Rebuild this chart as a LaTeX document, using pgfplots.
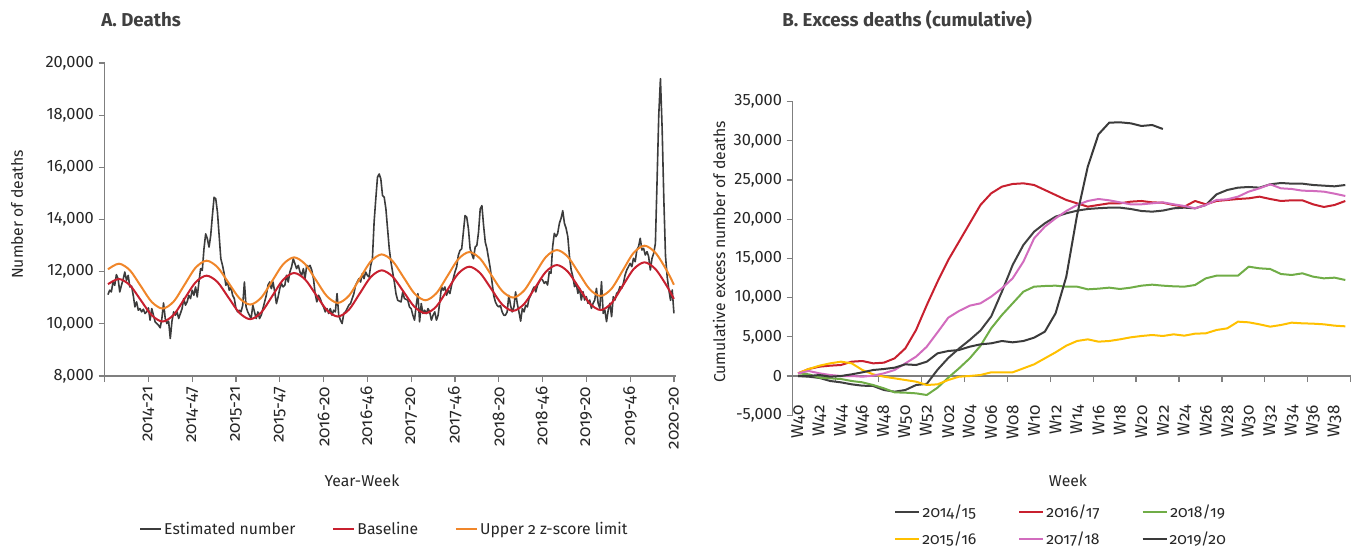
\documentclass[border=0pt]{standalone}
\usepackage{fontspec}
\setmainfont{Fira Sans}[Numbers=OldStyle]
\newfontfamily\linfont{Fira Sans}[Numbers=Lining]
\usepackage{pgfplots}
\pgfplotsset{compat=1.18}
\definecolor{cEst}{HTML}{3C3C3C}
\definecolor{cBase}{HTML}{C8202F}
\definecolor{cUpper}{HTML}{F0862A}
\definecolor{cA}{HTML}{404040}
\definecolor{cB}{HTML}{FFC000}
\definecolor{cC}{HTML}{C8202F}
\definecolor{cD}{HTML}{D26CBE}
\definecolor{cE}{HTML}{70AD47}
\definecolor{cF}{HTML}{3A3A3A}
\definecolor{axgray}{HTML}{7F7F7F}
\definecolor{txt}{HTML}{262626}
\definecolor{ttl}{HTML}{404040}
\begin{document}
\begin{tikzpicture}[font=\fontsize{11.8}{14}\selectfont, text=txt]
\path[use as bounding box] (0,0) rectangle (1020pt,410.25pt);
\pgfplotsset{
  common/.style={
    scale only axis, anchor=south west,
    axis line style={-, axgray, line width=0.9pt},
    tick style={axgray, line width=0.9pt},
    major tick length=4.5pt, tick align=outside,
    scaled y ticks=false,
    tick label style={font=\fontsize{12.8}{15}\selectfont},
    yticklabel style={font=\linfont\fontsize{12.3}{15}\selectfont},
    /pgf/number format/.cd, fixed, 1000 sep={,}, assume math mode=true,
  },
}
% ---------------- Panel A ----------------
\begin{axis}[common,
  at={(78.45pt,128.25pt)}, width=428.25pt, height=234.75pt,
  xmin=-6, xmax=333, ymin=8000, ymax=20000,
  axis x line*=bottom, axis y line*=left,
  xtick={-6,20,46,...,332},
  xticklabels={,2014-21,2014-47,2015-21,2015-47,2016-20,2016-46,2017-20,2017-46,2018-20,2018-46,2019-20,2019-46,2020-20},
  xticklabel style={rotate=90, anchor=east},
  ytick={8000,10000,...,20000},
  legend columns=3,
  legend style={draw=none, fill=none, at={(0.49,-0.489)}, anchor=center,
    nodes={inner xsep=1.5pt},
    /tikz/every even column/.append style={column sep=26pt},
    font=\fontsize{11.8}{14}\selectfont},
  legend image code/.code={\draw[#1] (0pt,0pt) -- (16pt,0pt);},
]
\addplot[cEst, line width=1.2pt, line join=round] coordinates {
(-4,11121)(-3,11287)(-2,11223)(-1,11605)(0,11478)(1,11885)(2,11732)(3,11223)(4,11478)(5,11700)
(6,11987)(7,11669)(8,11860)(9,11414)(10,11450)(11,11095)(12,10650)(13,10841)(14,10522)(15,10586)
(16,10458)(17,10560)(18,10395)(19,10458)(20,10611)(21,10140)(22,10586)(23,10331)(24,10076)(25,10012)
(26,9949)(27,9847)(28,10204)(29,10800)(30,10204)(31,10012)(32,10100)(33,9439)(34,10102)(35,10458)
(36,10331)(37,10458)(38,10204)(39,10395)(40,10586)(41,10968)(42,10713)(43,10840)(44,11095)(45,10968)
(46,11287)(47,11095)(48,11414)(49,11032)(50,11605)(51,12115)(52,12050)(53,12879)(54,13452)(55,13261)
(56,12943)(57,13389)(58,14153)(59,14854)(60,14790)(61,14281)(62,13389)(63,12497)(64,12242)(65,11924)
(66,11478)(67,11605)(68,11287)(69,11414)(70,11095)(71,10968)(72,10586)(73,10458)(74,10522)(75,10458)
(76,10713)(77,11605)(78,10650)(79,10458)(80,10331)(81,10204)(82,10713)(83,10458)(84,10204)(85,10458)
(86,10204)(87,10331)(88,10586)(89,10840)(90,11095)(91,11478)(92,11605)(93,11350)(94,11605)(95,11223)
(96,10777)(97,11032)(98,11350)(99,11541)(100,11414)(101,11478)(102,11860)(103,11605)(104,11987)(105,12178)
(106,12497)(107,12306)(108,12115)(109,12242)(110,11987)(111,11860)(112,12115)(113,11732)(114,12242)(115,12178)
(116,12242)(117,12051)(118,11732)(119,11159)(120,10841)(121,11095)(122,10968)(123,10777)(124,10650)(125,10458)
(126,10586)(127,10395)(128,10586)(129,10331)(130,10522)(131,10458)(132,11159)(133,10331)(134,10140)(135,10012)
(136,10395)(137,10458)(138,10586)(139,10713)(140,10777)(141,10968)(142,11159)(143,11478)(144,11605)(145,11732)
(146,11605)(147,11924)(148,11732)(149,11987)(150,11860)(151,11796)(152,12242)(153,12497)(154,13898)(155,14790)
(156,15618)(157,15745)(158,15554)(159,14917)(160,14854)(161,14408)(162,13643)(163,12879)(164,12369)(165,11987)
(166,11605)(167,11150)(168,10904)(169,10870)(170,10841)(171,11223)(172,10968)(173,10940)(174,10904)(175,10650)
(176,10586)(177,10331)(178,10140)(179,10713)(180,11159)(181,10076)(182,10777)(183,10395)(184,10522)(185,10395)
(186,10586)(187,10458)(188,10140)(189,10331)(190,10458)(191,10140)(192,10331)(193,10840)(194,11414)(195,11287)
(196,11414)(197,11095)(198,11287)(199,11159)(200,11478)(201,11732)(202,11987)(203,12178)(204,12624)(205,12815)
(206,12879)(207,13516)(208,14153)(209,14090)(210,13643)(211,12879)(212,12688)(213,12497)(214,12943)(215,13006)
(216,13516)(217,14408)(218,14535)(219,13771)(220,13134)(221,12879)(222,12497)(223,12115)(224,11605)(225,11095)
(226,10840)(227,10713)(228,10650)(229,10700)(230,10458)(231,10331)(232,10331)(233,10458)(234,11095)(235,10713)
(236,10458)(237,10650)(238,11223)(239,10777)(240,10458)(241,10102)(242,10586)(243,10458)(244,10713)(245,10650)
(246,10968)(247,11095)(248,11287)(249,11414)(250,11223)(251,11478)(252,11605)(253,11732)(254,11680)(255,11550)
(256,11617)(257,11489)(258,12000)(259,11936)(260,12959)(261,13470)(262,13342)(263,13470)(264,13853)(265,14045)
(266,14338)(267,13853)(268,13661)(269,13342)(270,12575)(271,12064)(272,11808)(273,11425)(274,11552)(275,11169)
(276,11361)(277,10913)(278,11233)(279,10913)(280,11041)(281,10786)(282,10913)(283,10594)(284,10786)(285,10913)
(286,11361)(287,10786)(288,10594)(289,11617)(290,10402)(291,10530)(292,10083)(293,10530)(294,10786)(295,10275)
(296,11041)(297,10913)(298,11169)(299,11233)(300,11425)(301,11361)(302,11552)(303,11872)(304,12064)(305,12192)
(306,12320)(307,12192)(308,12511)(309,12383)(310,12831)(311,12959)(312,13278)(313,12831)(314,12895)(315,12639)
(316,12767)(317,12575)(318,12064)(319,12511)(320,12703)(321,13086)(322,15500)(323,18000)(324,19400)(325,17500)
(326,14800)(327,12600)(328,11800)(329,11300)(330,10900)(331,11300)(332,10400)
};
\addlegendentry{Estimated number}
\addplot[cBase, line width=1.5pt, smooth] coordinates {
(-4,11520)(2.5,11720)(9,11482)(15.5,10905)(22,10328)(28.5,10089)(35,10346)(41.5,10968)(48,11590)
(54.5,11847)(61,11603)(67.5,11012)(74,10422)(80.5,10178)(87,10437)(93.5,11063)(100,11690)
(106.5,11949)(113,11705)(119.5,11114)(126,10525)(132.5,10280)(139,10539)(145.5,11165)(152,11792)
(158.5,12051)(165,11810)(171.5,11230)(178,10649)(184.5,10408)(191,10669)(197.5,11300)(204,11930)
(210.5,12191)(217,11943)(223.5,11344)(230,10745)(236.5,10497)(243,10755)(249.5,11376)(256,11997)
(262.5,12255)(269,12002)(275.5,11392)(282,10783)(288.5,10530)(295,10798)(301.5,11444)(308,12091)
(314.5,12359)(321,12102)(327.5,11480)(332,10960)
};
\addlegendentry{Baseline}
\addplot[cUpper, line width=1.5pt, smooth] coordinates {
(-4,12090)(2.5,12306)(9,12054)(15.5,11446)(22,10838)(28.5,10586)(35,10855)(41.5,11503)(48,12151)
(54.5,12420)(61,12174)(67.5,11580)(74,10985)(80.5,10739)(87,11004)(93.5,11644)(100,12283)
(106.5,12548)(113,12292)(119.5,11675)(126,11058)(132.5,10802)(139,11074)(145.5,11732)(152,12390)
(158.5,12662)(165,12404)(171.5,11783)(178,11161)(184.5,10904)(191,11175)(197.5,11828)(204,12481)
(210.5,12752)(217,12496)(223.5,11879)(230,11262)(236.5,11006)(243,11273)(249.5,11918)(256,12563)
(262.5,12830)(269,12572)(275.5,11948)(282,11325)(288.5,11067)(295,11350)(301.5,12032)(308,12714)
(314.5,12996)(321,12726)(327.5,12073)(332,11500)
};
\addlegendentry{Upper 2 z-score limit}
\end{axis}
% ---------------- Panel B ----------------
\begin{axis}[common,
  at={(594.5pt,98.85pt)}, width=418.5pt, height=235.2pt,
  xmin=-0.5, xmax=51.5, ymin=-5000, ymax=35000,
  axis x line*=middle, axis y line*=left,
  hide obscured x ticks=false, hide obscured y ticks=false,
  xtick={-0.5,3.5,...,51.5}, xticklabels={},
  extra x ticks={0,2,...,50},
  extra x tick labels={W40,W42,W44,W46,W48,W50,W52,W02,W04,W06,W08,W10,W12,W14,W16,W18,W20,W22,W24,W26,W28,W30,W32,W34,W36,W38},
  extra x tick style={tick style={draw=none}, xticklabel style={yshift=-14pt, rotate=90, anchor=east}},
  ytick={-5000,0,...,35000},
  legend columns=3,
  legend style={draw=none, fill=none, at={(0.481,-0.352)}, anchor=center,
    nodes={inner xsep=1.5pt}, row sep=5pt,
    /tikz/every even column/.append style={column sep=30pt},
    font=\fontsize{11.8}{14}\selectfont},
  legend image code/.code={\draw[#1] (0pt,0pt) -- (18pt,0pt);},
  every axis plot/.append style={line width=1.5pt, line join=round},
]
\addplot[cA] coordinates {
(0,0)(1,-85)(2,-250)(3,-638)(4,-808)(5,-1063)(6,-1233)(7,-1276)(8,-1786)(9,-2000)
(10,-1786)(11,-1150)(12,-1000)(13,800)(14,2300)(15,3500)(16,4600)(17,5800)(18,7600)(19,10757)
(20,14159)(21,16710)(22,18411)(23,19474)(24,20325)(25,20750)(26,21090)(27,21303)(28,21400)(29,21473)
(30,21473)(31,21303)(32,21047)(33,20962)(34,21100)(35,21388)(36,21473)(37,21388)(38,21813)(39,23173)
(40,23726)(41,24024)(42,24109)(43,24024)(44,24449)(45,24619)(46,24534)(47,24534)(48,24364)(49,24279)
(50,24194)(51,24364)
};
\addlegendentry{2014/15}
\addplot[cC] coordinates {
(0,340)(1,893)(2,1190)(3,1318)(4,1403)(5,1828)(6,1913)(7,1616)(8,1700)(9,2254)
(10,3529)(11,5868)(12,9057)(13,12033)(14,14797)(15,17135)(16,19474)(17,21813)(18,23300)(19,24151)
(20,24491)(21,24576)(22,24364)(23,23726)(24,23088)(25,22450)(26,22026)(27,21600)(28,21813)(29,22026)
(30,22026)(31,22238)(32,22323)(33,22153)(34,22100)(35,21813)(36,21600)(37,22323)(38,21898)(39,22323)
(40,22450)(41,22578)(42,22663)(43,22876)(44,22578)(45,22323)(46,22408)(47,22408)(48,21898)(49,21558)
(50,21813)(51,22323)
};
\addlegendentry{2016/17}
\addplot[cE] coordinates {
(0,340)(1,213)(2,-213)(3,-298)(4,-383)(5,-638)(6,-808)(7,-1148)(8,-1573)(9,-2084)
(10,-2126)(11,-2211)(12,-2424)(13,-1488)(14,-213)(15,978)(16,2254)(17,3850)(18,6080)(19,7781)
(20,9270)(21,10757)(22,11395)(23,11480)(24,11523)(25,11395)(26,11395)(27,11055)(28,11140)(29,11268)
(30,11098)(31,11268)(32,11523)(33,11650)(34,11523)(35,11438)(36,11395)(37,11608)(38,12458)(39,12798)
(40,12798)(41,12798)(42,13946)(43,13734)(44,13649)(45,13011)(46,12884)(47,13096)(48,12671)(49,12458)
(50,12543)(51,12246)
};
\addlegendentry{2018/19}
\addplot[cB] coordinates {
(0,340)(1,893)(2,1318)(3,1616)(4,1828)(5,1616)(6,765)(7,213)(8,-85)(9,-298)
(10,-510)(11,-723)(12,-1148)(13,-1063)(14,-510)(15,-85)(16,0)(17,128)(18,468)(19,468)
(20,468)(21,978)(22,1488)(23,2254)(24,3019)(25,3869)(26,4465)(27,4677)(28,4380)(29,4465)
(30,4677)(31,4932)(32,5102)(33,5230)(34,5102)(35,5315)(36,5145)(37,5400)(38,5443)(39,5868)
(40,6080)(41,6931)(42,6846)(43,6591)(44,6293)(45,6506)(46,6803)(47,6718)(48,6676)(49,6591)
(50,6421)(51,6336)
};
\addlegendentry{2015/16}
\addplot[cD] coordinates {
(0,340)(1,638)(2,340)(3,128)(4,0)(5,0)(6,-85)(7,43)(8,340)(9,765)
(10,1616)(11,2466)(12,3742)(13,5570)(14,7441)(15,8291)(16,8972)(17,9270)(18,10120)(19,11183)
(20,12458)(21,14584)(22,17561)(23,19049)(24,20112)(25,21047)(26,21813)(27,22323)(28,22578)(29,22408)
(30,22153)(31,21898)(32,21898)(33,22026)(34,22153)(35,21898)(36,21685)(37,21388)(38,21813)(39,22450)
(40,22535)(41,22876)(42,23514)(43,23939)(44,24449)(45,23939)(46,23854)(47,23641)(48,23599)(49,23514)
(50,23258)(51,22961)
};
\addlegendentry{2017/18}
\addplot[cF] coordinates {
(0,0)(1,0)(2,128)(3,-85)(4,0)(5,213)(6,468)(7,765)(8,893)(9,1063)
(10,1488)(11,1403)(12,1828)(13,2891)(14,3189)(15,3317)(16,3742)(17,4039)(18,4167)(19,4465)
(20,4295)(21,4465)(22,4890)(23,5655)(24,7994)(25,12671)(26,20500)(27,26703)(28,30827)(29,32315)
(30,32357)(31,32230)(32,31890)(33,32017)(34,31507)
};
\addlegendentry{2019/20}
\end{axis}
% ---------------- texts ----------------
\node[anchor=base west, inner sep=0pt, text=ttl, font=\bfseries\fontsize{14}{16}\selectfont] at (75.75pt,390pt) {A. Deaths};
\node[anchor=base west, inner sep=0pt, text=ttl, font=\bfseries\fontsize{14}{16}\selectfont] at (586.5pt,390pt) {B. Excess deaths (cumulative)};
\node[rotate=90] at (12.75pt,249.4pt) {Number of deaths};
\node[rotate=90] at (539.25pt,221.25pt) {Cumulative excess number of deaths};
\node at (271.5pt,49.5pt) {Year-Week};
\node at (801pt,49.5pt) {Week};
\end{tikzpicture}
\end{document}
